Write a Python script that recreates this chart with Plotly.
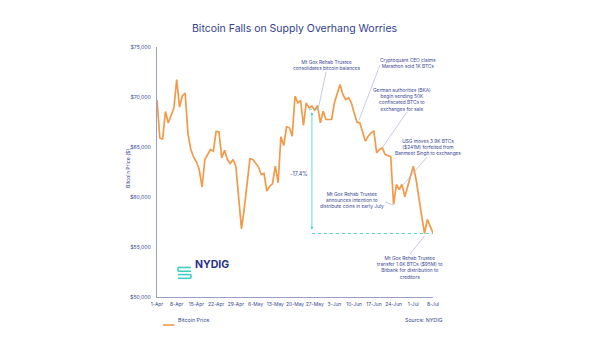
import pandas as pd
import plotly.graph_objects as go

# ---------------- data ----------------
start_date = "2024-04-01"
prices = [69700, 65900, 65800, 68550, 67400, 68100, 68900, 71750, 69000, 70100,
          70400, 66300, 64750, 64000, 63500, 62750, 61000, 63750, 64250, 64750,
          64580, 66550, 66520, 63920, 64680, 63750, 63350, 63750, 63080, 60080,
          56820, 58920, 61400, 63820, 63750, 63420, 63020, 62250, 62350, 60580,
          61080, 61320, 63080, 61420, 66020, 65150, 67020, 66920, 66080, 70080,
          69420, 69650, 67150, 69420, 68920, 69080, 68680, 69150, 67420, 68580,
          67750, 67750, 67750, 69420, 70250, 71250, 70250, 69750, 69920, 69420,
          68420, 67480, 67420, 66580, 65580, 66080, 66420, 66580, 64420, 64750,
          64920, 64250, 64150, 64020, 59250, 61250, 60750, 61250, 60020, 61080,
          62080, 63080, 61750, 59750, 58080, 56350, 57750, 57080, 56420]
dates = list(pd.date_range(start_date, periods=len(prices)))

x_tick_vals = ["2024-04-01", "2024-04-08", "2024-04-15", "2024-04-22", "2024-04-29",
               "2024-05-06", "2024-05-13", "2024-05-20", "2024-05-27", "2024-06-03",
               "2024-06-10", "2024-06-17", "2024-06-24", "2024-07-01", "2024-07-08"]
x_tick_text = ["1-Apr", "8-Apr", "15-Apr", "22-Apr", "29-Apr", "6-May", "13-May",
               "20-May", "27-May", "3-Jun", "10-Jun", "17-Jun", "24-Jun", "1-Jul", "8-Jul"]
y_tick_vals = [50000, 55000, 60000, 65000, 70000, 75000]
y_tick_text = ["$50,000", "$55,000", "$60,000", "$65,000", "$70,000", "$75,000"]

# ---------------- style ----------------
W, H = 590, 354
L, R, T, B = 157, 157, 47, 57
NAVY = "#33418E"
TEXT = "#3A4893"
AXIS = "#9A9EC4"
CONN = "#B9BCDD"
ORANGE = "#F29A48"
TEAL = "#3FD0C0"
FONT = "Inter"


def px(xp):
    return (xp - L) / (W - L - R)


def py(yp):
    return (H - B - yp) / (H - T - B)


fig = go.Figure()
fig.add_trace(go.Scatter(x=dates, y=prices, mode="lines", name="Bitcoin Price",
                         line=dict(color=ORANGE, width=1.7), showlegend=False))

annotations = []
shapes = []

callouts = [
    ("Mt Gox Rehab Trustee<br>consolidates bitcoin balances", 327, 65, (326, 72), (318, 110)),
    ("Cryptoquant CEO claims<br>Marathon sold 1K BTCs", 408, 63, (380, 65), (359, 120)),
    ("German authorities (BKA)<br>begin sending 50K<br>confiscated BTCs to<br>exchanges for sale",
     402, 99.5, (407, 112), (382, 148)),
    ("USG moves 3.9K BTCs<br>($241M) forfeited from<br>Banmeet Singh to exchanges",
     428, 146.7, (427, 157), (403.5, 184.5)),
    ("Mt Gox Rehab Trustee<br>announces intention to<br>distribute coins in early July",
     352, 199.5, (385, 202), (393, 205)),
    ("Mt Gox Rehab Trustee<br>transfer 1.6K BTCs ($95M) to<br>Bitbank for distribution to<br>creditors",
     410, 267.5, (410, 254), (424.5, 236)),
]
for text, cx, cy, p0, p1 in callouts:
    annotations.append(dict(text=text, x=px(cx), y=py(cy), xref="paper", yref="paper",
                            showarrow=False, xanchor="center", yanchor="middle",
                            align="center", font=dict(family=FONT, size=4.8, color=TEXT)))
    shapes.append(dict(type="line", xref="paper", yref="paper",
                       x0=px(p0[0]), y0=py(p0[1]), x1=px(p1[0]), y1=py(p1[1]),
                       line=dict(color=CONN, width=0.8)))

# -17.4% drawdown marker
low_val = min(prices)
peak_ref = prices[56]
arrow_x = dates[55]
annotations.append(dict(x=arrow_x, y=peak_ref - 200, ax=arrow_x, ay=low_val + 250,
                        xref="x", yref="y", axref="x", ayref="y", text="",
                        showarrow=True, arrowhead=2, arrowside="end+start",
                        arrowsize=0.7, arrowwidth=0.8, arrowcolor=TEAL))
shapes.append(dict(type="line", xref="x", yref="y", x0=arrow_x, x1=dates[-1],
                   y0=low_val, y1=low_val, line=dict(color=TEAL, width=0.9, dash="dot")))
shapes.append(dict(type="line", xref="x", yref="y", x0=dates[54], x1=dates[57],
                   y0=peak_ref + 100, y1=peak_ref + 100,
                   line=dict(color=TEAL, width=0.9, dash="dot")))
annotations.append(dict(text="-17.4%", x=px(299), y=py(174), xref="paper", yref="paper",
                        showarrow=False, font=dict(family=FONT, size=5.5, color=TEXT)))

# title
annotations.append(dict(text="Bitcoin Falls on Supply Overhang Worries", x=px(295), y=py(20),
                        xref="paper", yref="paper", showarrow=False,
                        font=dict(family=FONT, size=10.5, color=NAVY)))
# y axis title
annotations.append(dict(text="Bitcoin Price ($)", x=px(123), y=py(169), xref="paper",
                        yref="paper", showarrow=False, textangle=-90,
                        font=dict(family=FONT, size=5.2, color=NAVY)))
# legend (custom)
shapes.append(dict(type="line", xref="paper", yref="paper", x0=px(163), x1=px(174.5),
                   y0=py(325), y1=py(325), line=dict(color=ORANGE, width=1.6)))
annotations.append(dict(text="Bitcoin Price", x=px(175.5), y=py(325), xref="paper",
                        yref="paper", showarrow=False, xanchor="left",
                        font=dict(family=FONT, size=5.3, color=TEXT)))
# source
annotations.append(dict(text="Source: NYDIG", x=px(445), y=py(324.5), xref="paper",
                        yref="paper", showarrow=False, xanchor="right",
                        font=dict(family=FONT, size=5.3, color=TEXT)))
# NYDIG logo
annotations.append(dict(text="<b>NYDIG</b>", x=px(192.5), y=py(273), xref="paper",
                        yref="paper", showarrow=False, xanchor="left",
                        font=dict(family=FONT, size=10.5, color="#27318A")))
for (a, b, c, d) in [(178, 267.5, 191, 267.5), (178, 271.2, 191, 271.2),
                     (178, 274.6, 191, 274.6), (178, 278.3, 191, 278.3)]:
    shapes.append(dict(type="line", xref="paper", yref="paper", x0=px(a), y0=py(b),
                       x1=px(c), y1=py(d), line=dict(color=TEAL, width=1.6)))
for (a, b, c, d) in [(178, 267.5, 178, 271.2), (191, 274.6, 191, 278.3)]:
    shapes.append(dict(type="line", xref="paper", yref="paper", x0=px(a), y0=py(b),
                       x1=px(c), y1=py(d), line=dict(color=TEAL, width=1.6)))

fig.update_layout(
    width=W, height=H,
    margin=dict(l=L, r=R, t=T, b=B, pad=0),
    paper_bgcolor="white", plot_bgcolor="white",
    annotations=annotations, shapes=shapes,
    xaxis=dict(range=[dates[0], dates[-1]], tickvals=x_tick_vals, ticktext=x_tick_text,
               tickangle=0, showgrid=False, zeroline=False, showline=True, linecolor=AXIS,
               linewidth=1.3, ticks="", ticklabelstandoff=2,
               tickfont=dict(family=FONT, size=4.9, color=TEXT)),
    yaxis=dict(range=[50000, 75000], tickvals=y_tick_vals, ticktext=y_tick_text,
               showgrid=False, zeroline=False, showline=True, linecolor=AXIS, linewidth=1.1,
               ticks="", ticklabelstandoff=4, tickfont=dict(family=FONT, size=5.2, color=TEXT)),
    showlegend=False,
)

fig.write_html("out.html")
